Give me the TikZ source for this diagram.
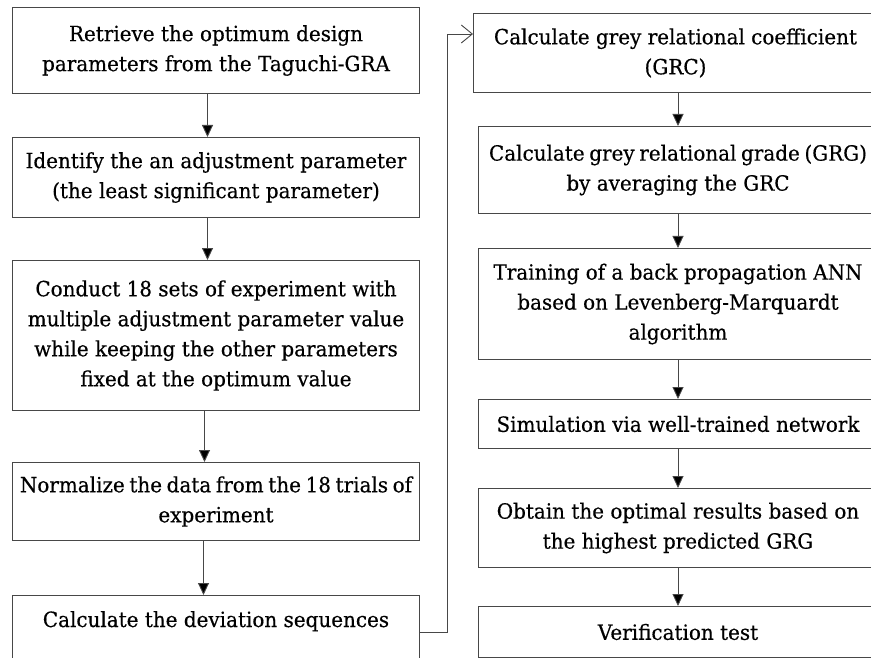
\documentclass[tikz,border=0pt]{standalone}
\usepackage{fontspec}
\setmainfont{DejaVu Serif}[FakeStretch=0.95,FakeBold=0.4]
\usetikzlibrary{arrows.meta,calc}
\definecolor{linegrey}{HTML}{474747}
\newcommand{\tightsp}{\spaceskip=0.22em\relax}
\begin{document}
\begin{tikzpicture}[x=1pt,y=1pt,
  stepbox/.style={draw=linegrey, line width=1pt, align=center, inner sep=0pt,
    anchor=north west, font=\fontsize{21}{30}\selectfont},
  lbox/.style={stepbox, minimum width=407pt},
  rbox/.style={stepbox, minimum width=399pt},
  arr/.style={draw=linegrey, line width=0.9pt, -{Triangle[length=12pt,width=11pt,fill=black]}},
  openarr/.style={draw=linegrey, line width=0.9pt, -{Straight Barb[length=11pt,width=18pt]}}]
\useasboundingbox (0,0) rectangle (871,-658);
\clip (0,0) rectangle (871,-658);
\fill[white] (0,0) rectangle (871,-658);
% left column
\node[lbox, minimum height=86pt] (L1) at (12,-7) {Retrieve the optimum design\\parameters from the Taguchi-GRA};
\node[lbox, minimum height=80pt] (L2) at (12,-137) {Identify the an adjustment parameter\\(the least significant parameter)};
\node[lbox, minimum height=150pt] (L3) at (12,-260) {Conduct 18 sets of experiment with\\multiple adjustment parameter value\\while keeping the other parameters\\fixed at the optimum value};
\node[lbox, minimum height=78pt] (L4) at (12,-462) {{\tightsp Normalize the data from the 18 trials of}\\experiment};
\node[lbox, minimum height=90pt] (L5) at (12,-595) {};
\node[font=\fontsize{21}{30}\selectfont, anchor=base] (L5t) at ($(L5.north)+(0,-32)$) {Calculate the deviation sequences};
% right column
\node[stepbox, minimum width=404pt, minimum height=79pt] (R1) at (473,-13) {Calculate grey relational coefficient\\(GRC)};
\node[rbox, minimum height=87pt] (R2) at (478,-126) {{\tightsp Calculate grey relational grade (GRG)}\\by averaging the GRC};
\node[rbox, minimum height=111pt] (R3) at (478,-248) {Training of a back propagation ANN\\based on Levenberg-Marquardt\\algorithm};
\node[rbox, minimum height=49pt] (R4) at (478,-399) {Simulation via well-trained network};
\node[rbox, minimum height=79pt] (R5) at (478,-488) {Obtain the optimal results based on\\the highest predicted GRG};
\node[rbox, minimum height=51pt] (R6) at (478,-606) {Verification test};
% left arrows
\draw[arr] ([xshift=-8.5pt]L1.south) -- ([xshift=-8.5pt]L2.north);
\draw[arr] ([xshift=-8.5pt]L2.south) -- ([xshift=-8.5pt]L3.north);
\draw[arr] ([xshift=-11.5pt]L3.south) -- ([xshift=-11.5pt]L4.north);
\draw[arr] ([xshift=-12.5pt]L4.south) -- ([xshift=-12.5pt]L5.north);
% right arrows
\draw[arr] (R1.south -| R2.north) -- (R2.north);
\draw[arr] (R2.south) -- (R3.north);
\draw[arr] (R3.south) -- (R4.north);
\draw[arr] (R4.south) -- (R5.north);
\draw[arr] (R5.south) -- (R6.north);
% connector
\coordinate (bend) at (447,-34);
\draw[openarr] ([yshift=-37pt]L5.north east) -| (bend) -- (bend -| R1.west);
\end{tikzpicture}
\end{document}
